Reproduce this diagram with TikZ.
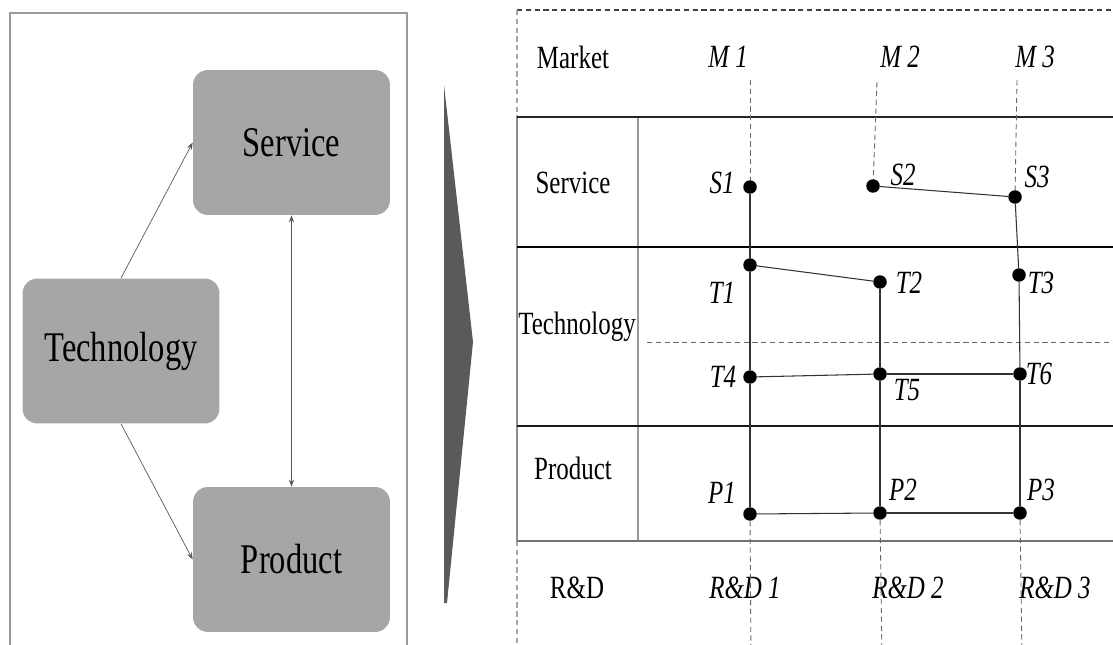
\documentclass[tikz,border=0pt]{standalone}
\usepackage{fontspec}
\setmainfont{Liberation Serif}
\usetikzlibrary{positioning,arrows.meta,calc}
\definecolor{boxgray}{HTML}{A6A6A6}
\definecolor{wedgegray}{HTML}{5A5A5A}
\definecolor{framegray}{HTML}{9A9A9A}
\newcommand{\tallx}[1]{\scalebox{1}[1.3]{#1}}

\tikzset{
  block/.style={fill=boxgray,rounded corners=0.3cm,minimum width=3.94cm,minimum height=2.9cm,
    font=\fontsize{18.5}{20}\selectfont},
  rowtxt/.style={font=\fontsize{14.2}{16}\selectfont},
  itxt/.style={font=\fontsize{14.2}{16}\selectfont\itshape,inner sep=1pt},
  dot/.style={circle,fill=black,inner sep=0pt,minimum size=0.27cm},
  link/.style={black!80,line width=0.6pt},
  guide/.style={black!60,densely dashed,line width=0.5pt},
  flow/.style={black!65,line width=0.4pt,-{Stealth[length=4pt,width=3pt]}}
}

\begin{document}
\begin{tikzpicture}[x=0.02cm,y=-0.02cm]
            \useasboundingbox (0,0) rectangle (1113,645);
            % left panel
            \draw[framegray,line width=0.6pt] (10,660) |- (407,13) -- (407,660);
            \node[block] (service) at (291.5,142.5) {\tallx{Service}};
            \node[block] (tech) at (121,351) {\tallx{Technology}};
            \node[block] (product) at (291.5,559.5) {\tallx{Product}};
            \draw[flow] (tech.north) -- (service.west);
            \draw[flow] (tech.south) -- (product.west);
            \draw[flow,{Stealth[length=4pt,width=3pt]}-{Stealth[length=4pt,width=3pt]}] (service.south) -- (product.north);
            % wedge
            \fill[wedgegray] (444,85) -- (473,342) -- (447,603) -- (444,603) -- cycle;
            % table
            \draw[black!75,densely dashed,line width=0.8pt] (517,10) -- (1113,10);
            \draw[black!35,densely dashed,line width=0.6pt] (517,10) -- (517,117);
            \draw[black!35,densely dashed,line width=0.6pt] (517,541) -- (517,660);
            \draw[black!45,line width=0.7pt] (517,117) -- (517,541);
            \draw[black!40,line width=0.7pt] (638,117) -- (638,541);
            \draw[black!85,line width=0.9pt] (517,117) -- (1113,117);
            \draw[black,line width=1.6pt] (517,247) -- (1113,247);
            \draw[black!60,densely dashed,line width=0.5pt] (647,342) -- (1113,342);
            \draw[black!90,line width=1.1pt] (517,426) -- (1113,426);
            \draw[black!55,line width=0.7pt] (517,541) -- (1113,541);
            % row names
            \node[rowtxt] (rmarket) at (573,57) {\tallx{Market}};
            \node[rowtxt] (rservice) at (573,183) {\tallx{Service}};
            \node[rowtxt] (rtech) at (577,327) {\tallx{Technology}};
            \node[rowtxt] (rproduct) at (573,468) {\tallx{Product}};
            \node[rowtxt] (rrd) at (577,588) {\tallx{R\&D}};
            % column heads
            \foreach \n/\x in {1/728,2/900,3/1035} {
                \node[itxt] (M\n) at (\x,57) {\tallx{M \n}};
            }
            \foreach \n/\x in {1/745,2/908,3/1055} {
                \node[itxt] (RD\n) at (\x,588) {\tallx{R\&D \n}};
            }
            % points
            \foreach \n/\x/\y/\lx/\ly in {S1/750/187/722/183, S2/873/186/903/175, S3/1015/197/1037/177,
                T1/750/265/722/293, T2/880/282/909/283, T3/1019/275/1041/283,
                T4/750/377/723/377, T5/880/374/907/390, T6/1020/374/1039/374,
                P1/750/514/722/493, P2/880/513/903/490, P3/1020/513/1041/490} {
                \node[dot] (\n) at (\x,\y) {};
                \node[itxt] (l\n) at (\lx,\ly) {\tallx{\n}};
            }
            \coordinate (m1) at (750,80);
            \coordinate (m2) at (877,82);
            \coordinate (m3) at (1017,80);
            \coordinate (r1) at (751,660);
            \coordinate (r2) at (882,660);
            \coordinate (r3) at (1022,660);
            \draw[guide] (m1) -- (S1);
            \draw[guide] (m2) -- (S2);
            \draw[guide] (m3) -- (S3);
            \draw[guide] (P1) -- (r1);
            \draw[guide] (P2) -- (r2);
            \draw[guide] (P3) -- (r3);
            \foreach \a/\b in {S1/T1,T1/T4,T4/P1,T1/T2,T2/T5,T5/P2,S2/S3,S3/T3,
                T3/T6,T6/P3,T4/T5,T5/T6,P1/P2,P2/P3} {
                \draw[link] (\a) -- (\b);
            }
        \end{tikzpicture}
\end{document}
